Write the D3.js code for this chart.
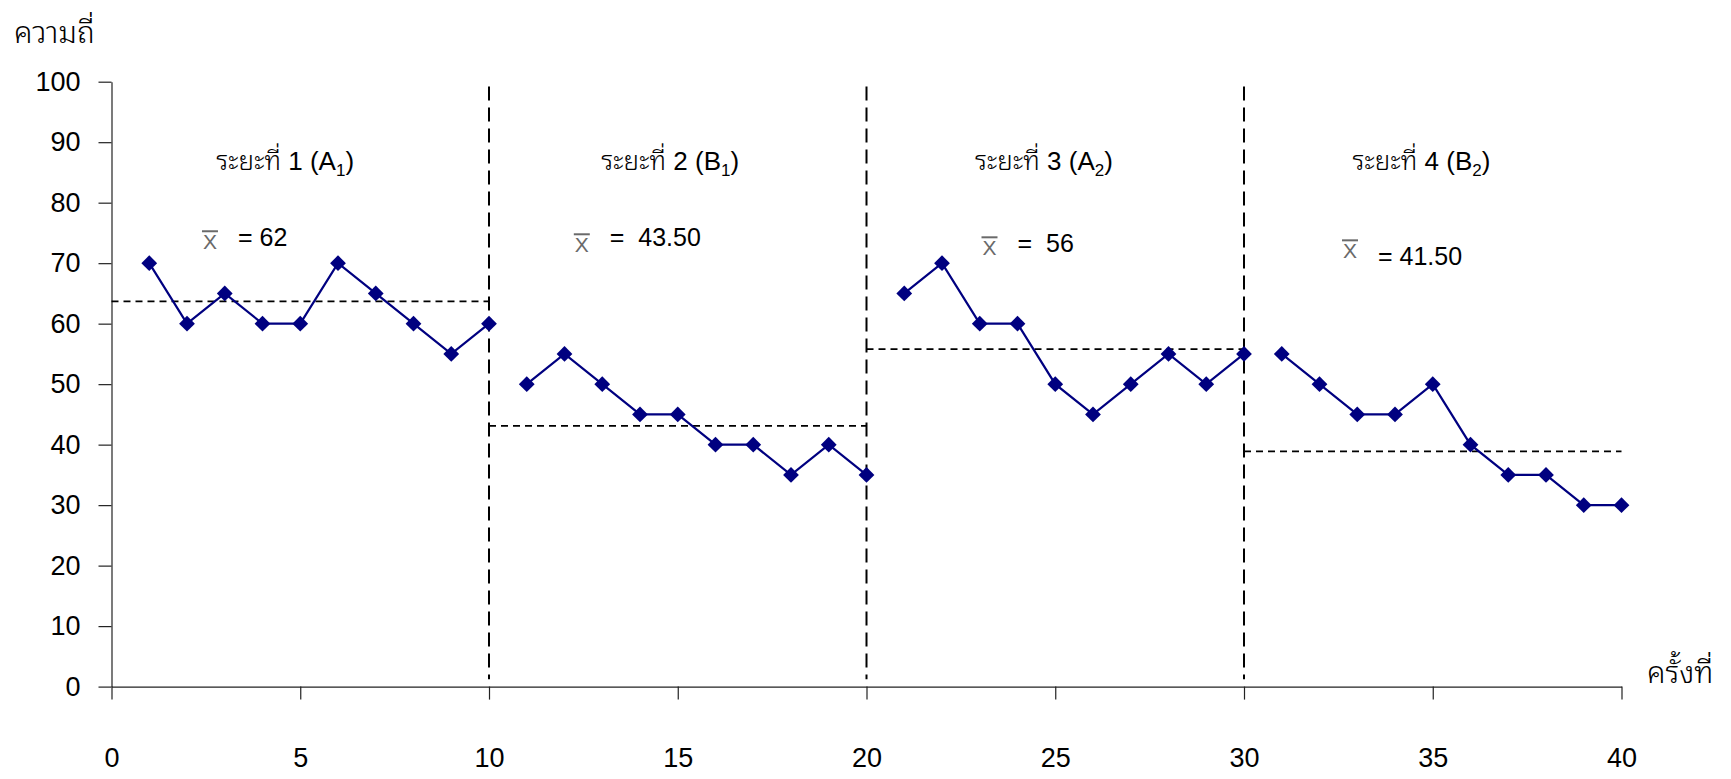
<!DOCTYPE html>
<html>
<head>
<meta charset="utf-8">
<script src="https://cdn.jsdelivr.net/npm/d3@7"></script>
<style>
  html, body { margin: 0; padding: 0; background: #fff; }
  svg { display: block; }
  .lat { font-family: "Liberation Sans", Arial, sans-serif; }
  .thai { font-family: "Liberation Sans", "Noto Sans Thai Looped", "Umpush", "Waree", "Loma", "Garuda", "Noto Sans Thai", sans-serif; font-weight: 350; }
</style>
</head>
<body>
<svg id="chart" width="1731" height="779"></svg>
<script>
// ---- data ----
const phase1 = [70, 60, 65, 60, 60, 70, 65, 60, 55, 60];
const phase2 = [50, 55, 50, 45, 45, 40, 40, 35, 40, 35];
const phase3 = [65, 70, 60, 60, 50, 45, 50, 55, 50, 55];
const phase4 = [55, 50, 45, 45, 50, 40, 35, 35, 30, 30];
const phaseBounds = [0, 10, 20, 30, 40];
const phaseNames = ["ระยะที่ 1 (A", "ระยะที่ 2 (B", "ระยะที่ 3 (A", "ระยะที่ 4 (B"];
const phaseSubs = ["1", "1", "2", "2"];
const meanLines = [63.7, 43.1, 55.8, 38.9];
const meanTexts = ["= 62", "=  43.50", "=  56", "= 41.50"];
const yTicks = [0, 10, 20, 30, 40, 50, 60, 70, 80, 90, 100];
const xTicks = [0, 5, 10, 15, 20, 25, 30, 35, 40];
const yTitle = "ความถี่";
const xTitle = "ครั้งที่";

const phases = [phase1, phase2, phase3, phase4].map((vals, i) =>
  vals.map((v, j) => ({ x: phaseBounds[i] + j + 1, y: v })));

// ---- layout ----
const svg = d3.select("#chart");
const x = d3.scaleLinear().domain([0, 40]).range([111.5, 1621.5]);
const y = d3.scaleLinear().domain([0, 100]).range([686.6, 81.7]);
const navy = "#000080";

// axes
const gy = svg.append("g").attr("class", "lat")
  .attr("transform", `translate(${x(0)},0)`)
  .call(d3.axisLeft(y).tickValues(yTicks).tickSize(13).tickSizeOuter(0).tickPadding(18));
const gx = svg.append("g").attr("class", "lat")
  .attr("transform", `translate(0,${y(0)})`)
  .call(d3.axisBottom(x).tickValues(xTicks).tickSize(13).tickSizeOuter(0).tickPadding(48));
[gx, gy].forEach(g => {
  g.selectAll("text").attr("font-size", 27).attr("fill", "#000")
    .attr("font-family", "Liberation Sans, Arial, sans-serif");
  g.selectAll("line").attr("stroke", "#222").attr("stroke-width", 1.2);
  g.select(".domain").attr("stroke", "#222").attr("stroke-width", 1.2);
});

// vertical phase separators
svg.append("g").selectAll("line")
  .data(phaseBounds.slice(1, 4)).join("line")
  .attr("x1", d => x(d)).attr("x2", d => x(d))
  .attr("y1", y(99.2)).attr("y2", y(1.2))
  .attr("stroke", "#000").attr("stroke-width", 2)
  .attr("stroke-dasharray", "14,7");

// mean lines
svg.append("g").selectAll("line")
  .data(meanLines).join("line")
  .attr("x1", (d, i) => x(phaseBounds[i])).attr("x2", (d, i) => x(phaseBounds[i + 1]))
  .attr("y1", d => y(d)).attr("y2", d => y(d))
  .attr("stroke", "#000").attr("stroke-width", 1.8)
  .attr("stroke-dasharray", "7,5");

// data lines
const line = d3.line().x(d => x(d.x)).y(d => y(d.y));
svg.append("g").selectAll("path")
  .data(phases).join("path")
  .attr("d", line).attr("fill", "none")
  .attr("stroke", navy).attr("stroke-width", 2.2);

// markers
const sym = d3.symbol(d3.symbolSquare, 125);
svg.append("g").selectAll("path")
  .data(phases.flat()).join("path")
  .attr("d", sym)
  .attr("transform", d => `translate(${x(d.x)},${y(d.y)}) rotate(45)`)
  .attr("fill", navy);

// phase labels
const labelX = [4.6, 14.8, 24.7, 34.7];
phaseNames.forEach((name, i) => {
  const t = svg.append("text").attr("class", "thai")
    .attr("x", x(labelX[i])).attr("y", y(85.4))
    .attr("text-anchor", "middle").attr("font-size", 26).attr("fill", "#000");
  t.append("tspan").text(name);
  t.append("tspan").attr("font-size", 17).attr("dy", 6).text(phaseSubs[i]);
  t.append("tspan").attr("dy", -6).text(")");
});

// mean annotations: X-bar symbol + value text
const barY = [72.3, 71.8, 71.3, 70.8];      // baseline of X-bar (data units)
const valX = [3.35, 13.2, 24.0, 33.55];     // start of "= ..." text (data units)
const valY = [72.8, 72.8, 71.9, 69.7];
meanTexts.forEach((txt, i) => {
  const bx = x(valX[i]) - 28;
  const by = y(barY[i]);
  svg.append("text").attr("class", "lat")
    .attr("x", bx).attr("y", by)
    .attr("text-anchor", "middle").attr("font-size", 21)
    .attr("fill", "#6a6a6a").text("X");
  svg.append("line")
    .attr("x1", bx - 8).attr("x2", bx + 8)
    .attr("y1", by - 18).attr("y2", by - 18)
    .attr("stroke", "#6a6a6a").attr("stroke-width", 2);
  svg.append("text").attr("class", "lat")
    .attr("x", x(valX[i])).attr("y", y(valY[i]))
    .attr("font-size", 25).attr("fill", "#000")
    .style("white-space", "pre").text(txt);
});

// axis titles
svg.append("text").attr("class", "thai")
  .attr("x", 14).attr("y", 43).attr("font-size", 30).attr("fill", "#000").text(yTitle);
svg.append("text").attr("class", "thai")
  .attr("x", 1647).attr("y", 683).attr("font-size", 30).attr("fill", "#000").text(xTitle);
</script>
</body>
</html>
